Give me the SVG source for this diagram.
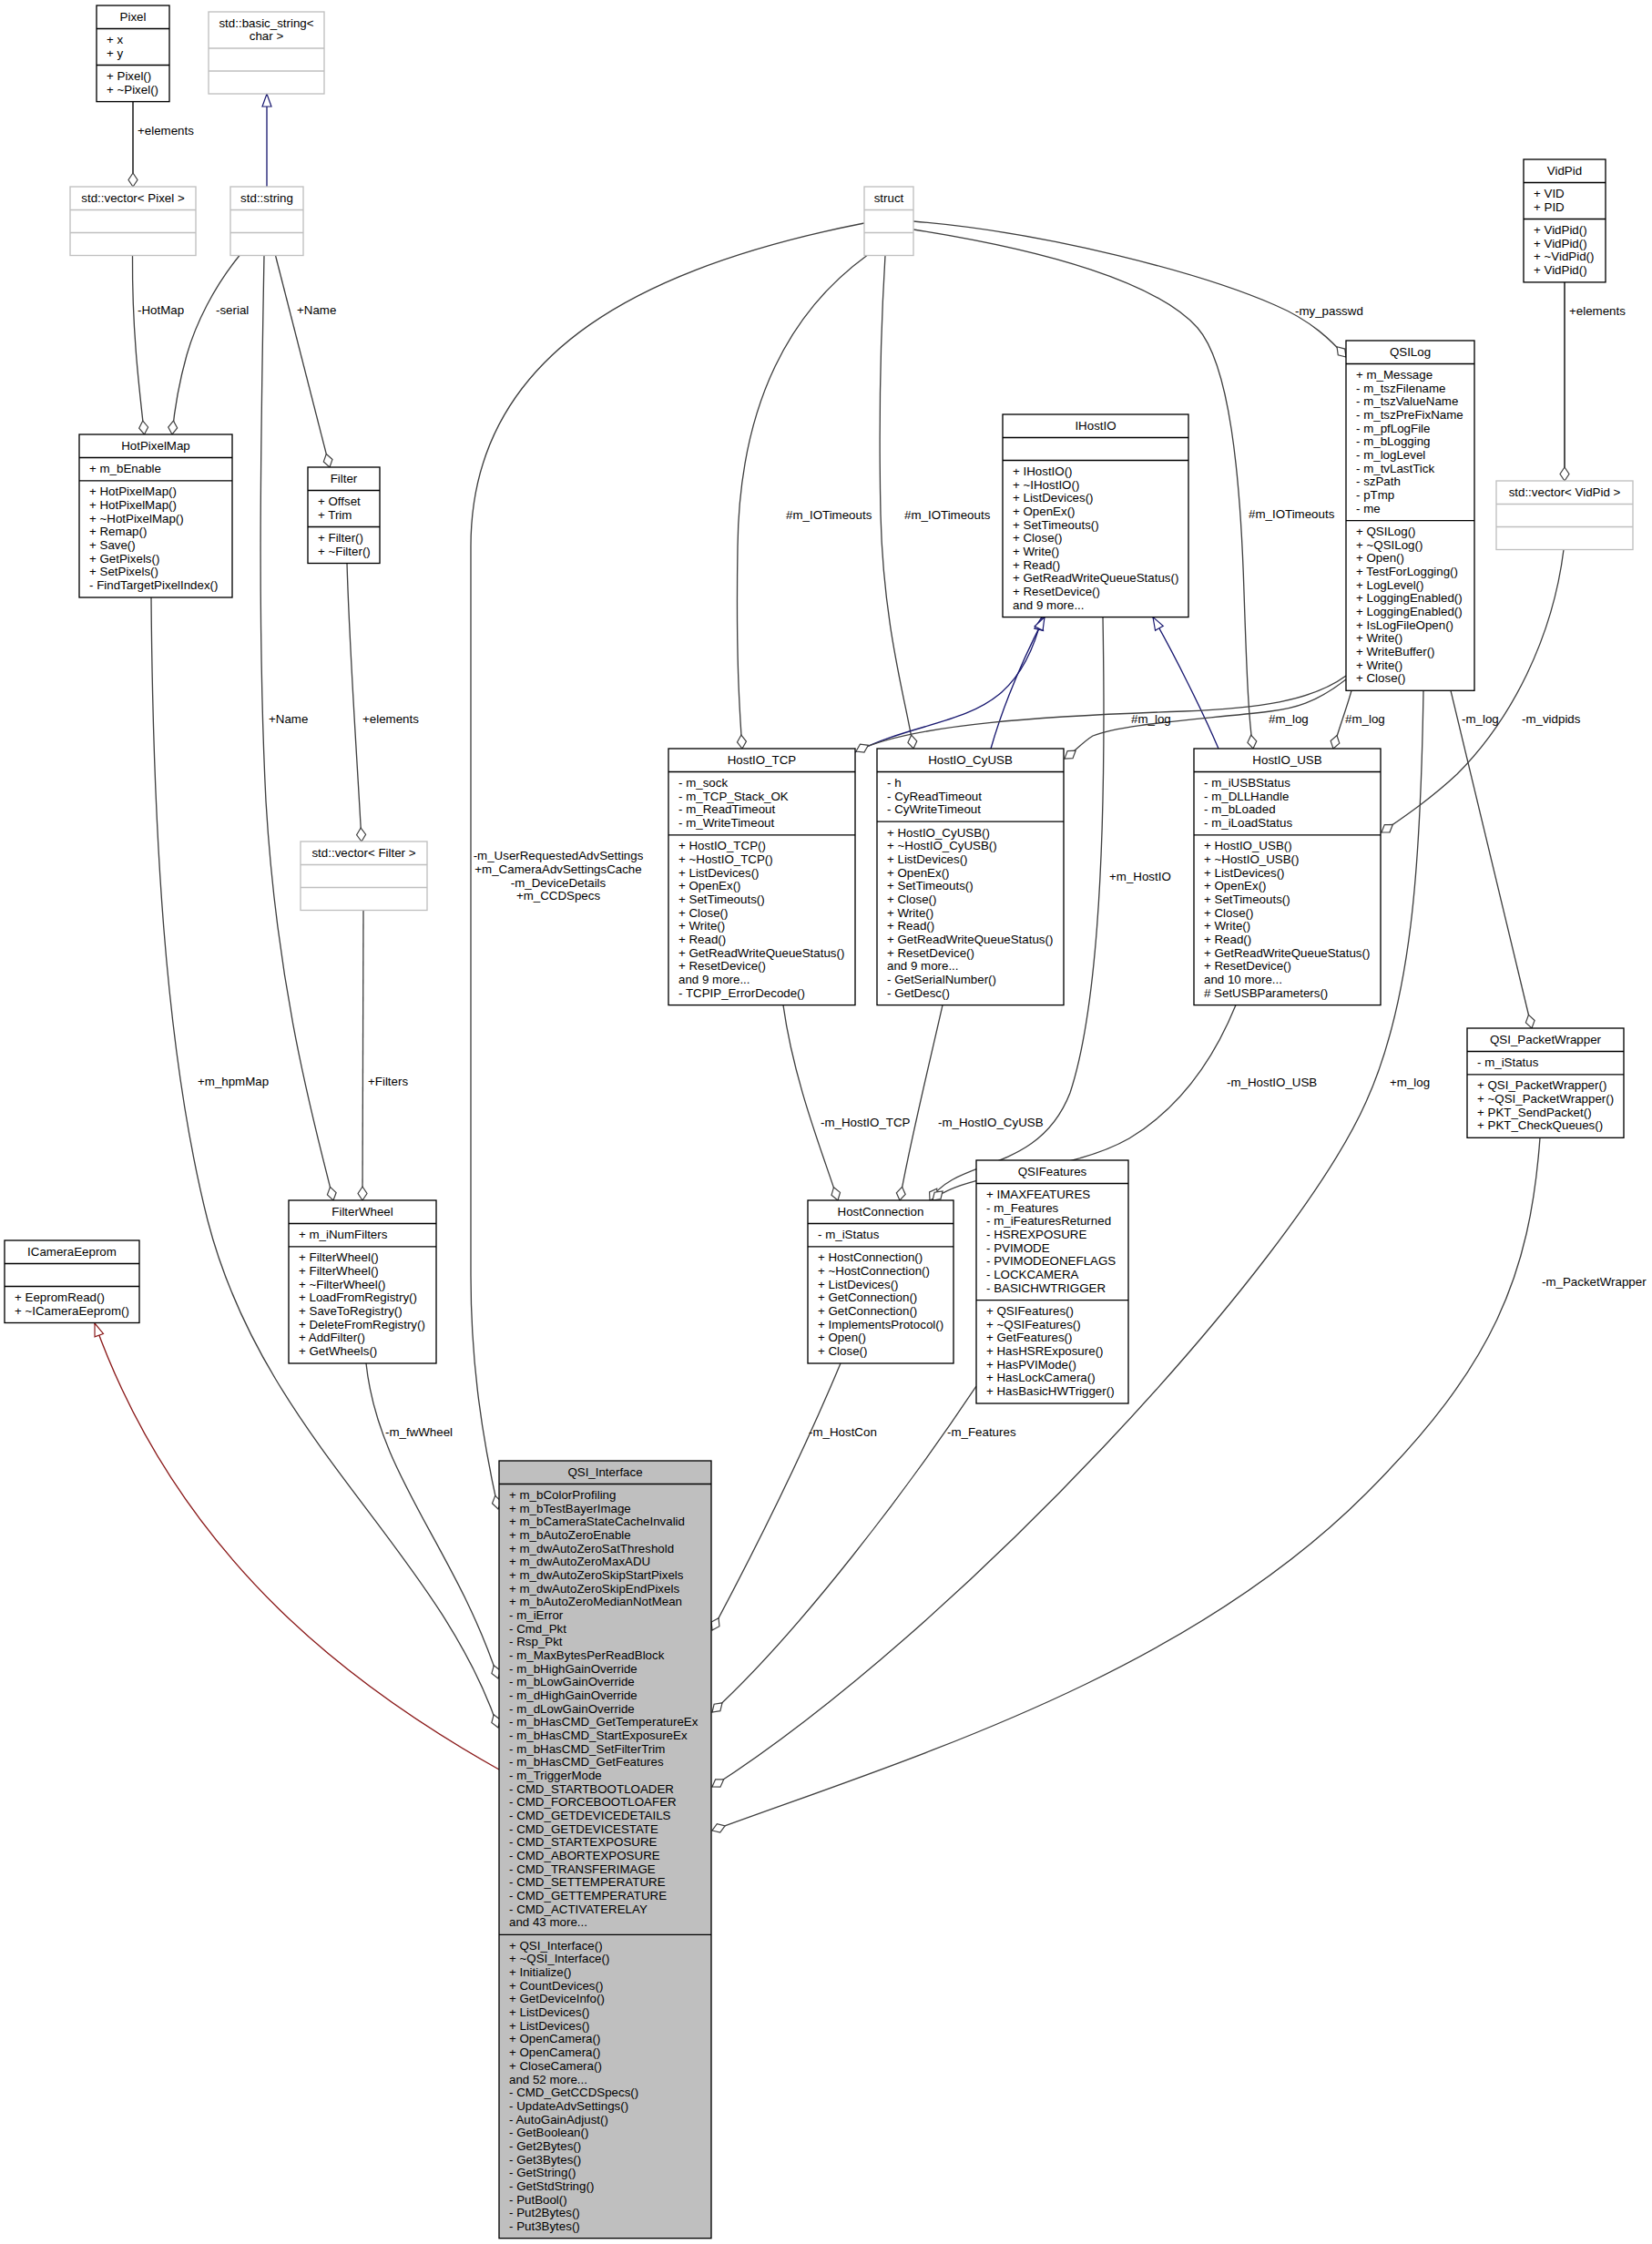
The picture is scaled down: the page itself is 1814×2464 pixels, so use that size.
<svg xmlns="http://www.w3.org/2000/svg" width="1814" height="2464" viewBox="0 0 1814 2464">
<style>
text{font-family:"Liberation Sans",Arial,Helvetica,sans-serif;font-size:13.33px;fill:#000}
.t{text-anchor:middle}
.n rect{fill:#fff;stroke:#000;stroke-width:1.33}
.n line{stroke:#000;stroke-width:1.33}
.g rect{fill:#fff;stroke:#bfbfbf;stroke-width:1.33}
.g line{stroke:#bfbfbf;stroke-width:1.33}
.q rect{fill:#bfbfbf}
.e path{fill:none;stroke:#404040;stroke-width:1.33}
.e path.thick{stroke-width:2;stroke:#505050}
.e path.inh{stroke:#191970;marker-end:url(#tri)}
.e path.prv{stroke:#8b1a1a;marker-end:url(#trir)}
.e path.agg{marker-end:url(#dia)}
</style>
<defs>
<marker id="dia" markerUnits="userSpaceOnUse" viewBox="-1 -7 18 14" markerWidth="18" markerHeight="14" refX="15.5" refY="0" orient="auto" overflow="visible"><path d="M0.5,0 L8,-5 L15.5,0 L8,5 Z" fill="#fff" stroke="#404040" stroke-width="1.2"/></marker>
<marker id="tri" markerUnits="userSpaceOnUse" viewBox="-1 -7 17 14" markerWidth="17" markerHeight="14" refX="14.5" refY="0" orient="auto" overflow="visible"><path d="M0.5,-5 L14.5,0 L0.5,5 Z" fill="#fff" stroke="#191970" stroke-width="1.2"/></marker>
<marker id="trir" markerUnits="userSpaceOnUse" viewBox="-1 -7 17 14" markerWidth="17" markerHeight="14" refX="14.5" refY="0" orient="auto" overflow="visible"><path d="M0.5,-5 L14.5,0 L0.5,5 Z" fill="#fff" stroke="#8b1a1a" stroke-width="1.2"/></marker>
</defs>
<rect width="1814" height="2464" fill="#fff"/>

<g id="edges" class="e">
<path class="agg thick" d="M146,111.6 L146,205"/>
<path class="inh" d="M293,205 L293,103"/>
<path class="agg" d="M145.5,280.5 C145,360 152,420 158.5,477"/>
<path class="agg" d="M263,280.5 C235,315 215,355 205,390 C198,415 192,445 189,477"/>
<path class="agg" d="M302.5,280.5 L362,513"/>
<path class="agg" d="M290,280.5 C286,500 283,700 292,880 C305,1100 350,1250 366,1318"/>
<path class="agg" d="M381,618.5 C384,720 392,830 397,924"/>
<path class="agg" d="M399,999.5 L398,1318"/>
<path class="agg" d="M166,656 C168,900 180,1150 228,1340 C290,1580 480,1700 547,1897"/>
<path class="agg" d="M402,1497 C415,1620 500,1700 547,1843"/>
<path class="prv" d="M548,1943 C400,1860 200,1720 104,1453"/>
<path class="agg" d="M949,245 C720,290 517,380 517,600 L517,1400 C517,1500 530,1580 547,1657"/>
<path class="agg" d="M952,280.5 C870,340 812,440 810,600 C808,720 812,780 815,822"/>
<path class="agg" d="M972,280.5 C966,380 965,470 967,565 C970,690 995,770 1003,822"/>
<path class="agg" d="M1003,243 C1150,255 1320,300 1400,335 C1440,352 1462,374 1478,392"/>
<path class="agg" d="M1003,252 C1150,275 1270,310 1315,360 C1350,400 1362,520 1366,650 C1369,740 1371,790 1376,822"/>
<path class="inh" d="M939,826 C1000,795 1060,795 1100,760 C1120,742 1135,715 1144,677.6"/>
<path class="inh" d="M1088,822 C1100,780 1120,730 1147,677.6"/>
<path class="inh" d="M1338,822 C1320,780 1290,720 1266,677.6"/>
<path class="agg" d="M1211,677.6 C1215,900 1208,1100 1175,1200 C1140,1290 1050,1270 1021,1318"/>
<path class="agg" d="M1357,1103.6 C1330,1170 1290,1220 1240,1250 C1170,1290 1060,1285 1024,1318"/>
<path class="agg" d="M860,1103.6 C872,1190 905,1270 920,1318"/>
<path class="agg" d="M1035,1103.6 C1020,1170 998,1260 988,1318"/>
<path class="agg" d="M923,1497 C880,1600 830,1700 782,1790"/>
<path class="agg" d="M1072,1522 C1000,1630 880,1790 782,1880"/>
<path class="agg" d="M1563,758.3 C1560,950 1550,1100 1500,1210 C1420,1390 1050,1790 782,1962"/>
<path class="agg" d="M1691,1249.3 C1680,1400 1640,1500 1500,1640 C1300,1840 1000,1930 782,2010"/>
<path class="agg" d="M1593,758.3 L1682,1129"/>
<path class="agg" d="M1484,758.3 C1478,780 1470,800 1464,822"/>
<path class="agg" d="M1717,603.5 C1705,700 1660,790 1600,850 C1570,878 1540,898 1517,914"/>
<path class="agg" d="M1478,742 C1440,770 1380,778 1300,781 C1150,786 1000,795 940,825"/>
<path class="agg" d="M1478,746 C1445,772 1420,778 1395,781 C1320,790 1230,795 1200,808 C1190,814 1180,825 1169,833"/>
<path class="thick agg" d="M1718,309.9 L1718,528"/>
</g>

<g id="edge-labels">
<text x="151" y="147.7">+elements</text>
<text x="151" y="345">-HotMap</text>
<text x="237" y="345">-serial</text>
<text x="326" y="345">+Name</text>
<text x="1422" y="345.7">-my_passwd</text>
<text x="1723" y="345.7">+elements</text>
<text x="863" y="569.5">#m_IOTimeouts</text>
<text x="993" y="569.5">#m_IOTimeouts</text>
<text x="1371" y="569">#m_IOTimeouts</text>
<text x="295" y="794">+Name</text>
<text x="398" y="794">+elements</text>
<text x="1242" y="794">#m_log</text>
<text x="1393" y="794">#m_log</text>
<text x="1477" y="794">#m_log</text>
<text x="1605" y="794">-m_log</text>
<text x="1671" y="794">-m_vidpids</text>
<text class="t" x="613" y="944.3"><tspan x="613" y="944.3">-m_UserRequestedAdvSettings</tspan><tspan x="613" dy="14.67">+m_CameraAdvSettingsCache</tspan><tspan x="613" dy="14.67">-m_DeviceDetails</tspan><tspan x="613" dy="14.67">+m_CCDSpecs</tspan></text>
<text x="1218" y="967">+m_HostIO</text>
<text x="217" y="1192">+m_hpmMap</text>
<text x="404" y="1192">+Filters</text>
<text x="1347" y="1193">-m_HostIO_USB</text>
<text x="1526" y="1193">+m_log</text>
<text x="901" y="1237">-m_HostIO_TCP</text>
<text x="1030" y="1237">-m_HostIO_CyUSB</text>
<text x="1693" y="1412">-m_PacketWrapper</text>
<text x="423" y="1577">-m_fwWheel</text>
<text x="888" y="1577">-m_HostCon</text>
<text x="1040" y="1577">-m_Features</text>
</g>

<g id="node-Pixel" class="n">
<rect x="106" y="6" width="80" height="105.6"/>
<line x1="106" y1="31.5" x2="186" y2="31.5"/><line x1="106" y1="71.5" x2="186" y2="71.5"/>
<text class="t" x="146" y="22.5">Pixel</text>
<text x="117" y="48"><tspan x="117" y="48">+ x</tspan><tspan x="117" dy="14.67">+ y</tspan></text>
<text x="117" y="88"><tspan x="117" y="88">+ Pixel()</tspan><tspan x="117" dy="14.67">+ ~Pixel()</tspan></text>
</g>

<g id="node-basic_string" class="g">
<rect x="229" y="13" width="127" height="90"/>
<line x1="229" y1="53" x2="356" y2="53"/><line x1="229" y1="78" x2="356" y2="78"/>
<text class="t" x="292.5" y="29.5"><tspan x="292.5" y="29.5">std::basic_string&lt;</tspan><tspan x="292.5" dy="14.67">char &gt;</tspan></text>
</g>

<g id="node-vector_Pixel" class="g">
<rect x="77" y="205" width="138" height="75.5"/>
<line x1="77" y1="230.5" x2="215" y2="230.5"/><line x1="77" y1="255.5" x2="215" y2="255.5"/>
<text class="t" x="146" y="221.5">std::vector&lt; Pixel &gt;</text>
</g>

<g id="node-string" class="g">
<rect x="253" y="205" width="80" height="75.5"/>
<line x1="253" y1="230.5" x2="333" y2="230.5"/><line x1="253" y1="255.5" x2="333" y2="255.5"/>
<text class="t" x="293" y="221.5">std::string</text>
</g>

<g id="node-struct" class="g">
<rect x="949" y="205" width="54" height="75.5"/>
<line x1="949" y1="230.5" x2="1003" y2="230.5"/><line x1="949" y1="255.5" x2="1003" y2="255.5"/>
<text class="t" x="976" y="221.5">struct</text>
</g>

<g id="node-HotPixelMap" class="n">
<rect x="87" y="477" width="168" height="179"/>
<line x1="87" y1="502.5" x2="255" y2="502.5"/><line x1="87" y1="527.9" x2="255" y2="527.9"/>
<text class="t" x="171" y="493.5">HotPixelMap</text>
<text x="98" y="519">+ m_bEnable</text>
<text x="98" y="544.4"><tspan x="98" y="544.4">+ HotPixelMap()</tspan><tspan x="98" dy="14.67">+ HotPixelMap()</tspan><tspan x="98" dy="14.67">+ ~HotPixelMap()</tspan><tspan x="98" dy="14.67">+ Remap()</tspan><tspan x="98" dy="14.67">+ Save()</tspan><tspan x="98" dy="14.67">+ GetPixels()</tspan><tspan x="98" dy="14.67">+ SetPixels()</tspan><tspan x="98" dy="14.67">- FindTargetPixelIndex()</tspan></text>
</g>

<g id="node-Filter" class="n">
<rect x="338" y="513" width="79" height="105.5"/>
<line x1="338" y1="538.5" x2="417" y2="538.5"/><line x1="338" y1="578.5" x2="417" y2="578.5"/>
<text class="t" x="377.5" y="529.5">Filter</text>
<text x="349" y="555"><tspan x="349" y="555">+ Offset</tspan><tspan x="349" dy="14.67">+ Trim</tspan></text>
<text x="349" y="595"><tspan x="349" y="595">+ Filter()</tspan><tspan x="349" dy="14.67">+ ~Filter()</tspan></text>
</g>

<g id="node-vector_Filter" class="g">
<rect x="330" y="924" width="139" height="75.5"/>
<line x1="330" y1="949.5" x2="469" y2="949.5"/><line x1="330" y1="974.5" x2="469" y2="974.5"/>
<text class="t" x="399.5" y="940.5">std::vector&lt; Filter &gt;</text>
</g>

<g id="node-FilterWheel" class="n">
<rect x="317" y="1318" width="162" height="179"/>
<line x1="317" y1="1343.5" x2="479" y2="1343.5"/><line x1="317" y1="1368.9" x2="479" y2="1368.9"/>
<text class="t" x="398" y="1334.5">FilterWheel</text>
<text x="328" y="1360">+ m_iNumFilters</text>
<text x="328" y="1385.4"><tspan x="328" y="1385.4">+ FilterWheel()</tspan><tspan x="328" dy="14.67">+ FilterWheel()</tspan><tspan x="328" dy="14.67">+ ~FilterWheel()</tspan><tspan x="328" dy="14.67">+ LoadFromRegistry()</tspan><tspan x="328" dy="14.67">+ SaveToRegistry()</tspan><tspan x="328" dy="14.67">+ DeleteFromRegistry()</tspan><tspan x="328" dy="14.67">+ AddFilter()</tspan><tspan x="328" dy="14.67">+ GetWheels()</tspan></text>
</g>

<g id="node-ICameraEeprom" class="n">
<rect x="5" y="1362" width="148" height="90.5"/>
<line x1="5" y1="1387.5" x2="153" y2="1387.5"/><line x1="5" y1="1412.5" x2="153" y2="1412.5"/>
<text class="t" x="79" y="1378.5">ICameraEeprom</text>
<text x="16" y="1429"><tspan x="16" y="1429">+ EepromRead()</tspan><tspan x="16" dy="14.67">+ ~ICameraEeprom()</tspan></text>
</g>

<g id="node-IHostIO" class="n">
<rect x="1101" y="455" width="204" height="222.6"/>
<line x1="1101" y1="480.5" x2="1305" y2="480.5"/><line x1="1101" y1="505.5" x2="1305" y2="505.5"/>
<text class="t" x="1203" y="471.5">IHostIO</text>
<text x="1112" y="522"><tspan x="1112" y="522">+ IHostIO()</tspan><tspan x="1112" dy="14.67">+ ~IHostIO()</tspan><tspan x="1112" dy="14.67">+ ListDevices()</tspan><tspan x="1112" dy="14.67">+ OpenEx()</tspan><tspan x="1112" dy="14.67">+ SetTimeouts()</tspan><tspan x="1112" dy="14.67">+ Close()</tspan><tspan x="1112" dy="14.67">+ Write()</tspan><tspan x="1112" dy="14.67">+ Read()</tspan><tspan x="1112" dy="14.67">+ GetReadWriteQueueStatus()</tspan><tspan x="1112" dy="14.67">+ ResetDevice()</tspan><tspan x="1112" dy="14.67">and 9 more...</tspan></text>
</g>

<g id="node-HostIO_TCP" class="n">
<rect x="734" y="822" width="205" height="281.6"/>
<line x1="734" y1="847.5" x2="939" y2="847.5"/><line x1="734" y1="916.9" x2="939" y2="916.9"/>
<text class="t" x="836.5" y="838.5">HostIO_TCP</text>
<text x="745" y="864"><tspan x="745" y="864">- m_sock</tspan><tspan x="745" dy="14.67">- m_TCP_Stack_OK</tspan><tspan x="745" dy="14.67">- m_ReadTimeout</tspan><tspan x="745" dy="14.67">- m_WriteTimeout</tspan></text>
<text x="745" y="933.4"><tspan x="745" y="933.4">+ HostIO_TCP()</tspan><tspan x="745" dy="14.67">+ ~HostIO_TCP()</tspan><tspan x="745" dy="14.67">+ ListDevices()</tspan><tspan x="745" dy="14.67">+ OpenEx()</tspan><tspan x="745" dy="14.67">+ SetTimeouts()</tspan><tspan x="745" dy="14.67">+ Close()</tspan><tspan x="745" dy="14.67">+ Write()</tspan><tspan x="745" dy="14.67">+ Read()</tspan><tspan x="745" dy="14.67">+ GetReadWriteQueueStatus()</tspan><tspan x="745" dy="14.67">+ ResetDevice()</tspan><tspan x="745" dy="14.67">and 9 more...</tspan><tspan x="745" dy="14.67">- TCPIP_ErrorDecode()</tspan></text>
</g>

<g id="node-HostIO_CyUSB" class="n">
<rect x="963" y="822" width="205" height="281.6"/>
<line x1="963" y1="847.5" x2="1168" y2="847.5"/><line x1="963" y1="902.2" x2="1168" y2="902.2"/>
<text class="t" x="1065.5" y="838.5">HostIO_CyUSB</text>
<text x="974" y="864"><tspan x="974" y="864">- h</tspan><tspan x="974" dy="14.67">- CyReadTimeout</tspan><tspan x="974" dy="14.67">- CyWriteTimeout</tspan></text>
<text x="974" y="918.7"><tspan x="974" y="918.7">+ HostIO_CyUSB()</tspan><tspan x="974" dy="14.67">+ ~HostIO_CyUSB()</tspan><tspan x="974" dy="14.67">+ ListDevices()</tspan><tspan x="974" dy="14.67">+ OpenEx()</tspan><tspan x="974" dy="14.67">+ SetTimeouts()</tspan><tspan x="974" dy="14.67">+ Close()</tspan><tspan x="974" dy="14.67">+ Write()</tspan><tspan x="974" dy="14.67">+ Read()</tspan><tspan x="974" dy="14.67">+ GetReadWriteQueueStatus()</tspan><tspan x="974" dy="14.67">+ ResetDevice()</tspan><tspan x="974" dy="14.67">and 9 more...</tspan><tspan x="974" dy="14.67">- GetSerialNumber()</tspan><tspan x="974" dy="14.67">- GetDesc()</tspan></text>
</g>

<g id="node-HostIO_USB" class="n">
<rect x="1311" y="822" width="205" height="281.6"/>
<line x1="1311" y1="847.5" x2="1516" y2="847.5"/><line x1="1311" y1="916.9" x2="1516" y2="916.9"/>
<text class="t" x="1413.5" y="838.5">HostIO_USB</text>
<text x="1322" y="864"><tspan x="1322" y="864">- m_iUSBStatus</tspan><tspan x="1322" dy="14.67">- m_DLLHandle</tspan><tspan x="1322" dy="14.67">- m_bLoaded</tspan><tspan x="1322" dy="14.67">- m_iLoadStatus</tspan></text>
<text x="1322" y="933.4"><tspan x="1322" y="933.4">+ HostIO_USB()</tspan><tspan x="1322" dy="14.67">+ ~HostIO_USB()</tspan><tspan x="1322" dy="14.67">+ ListDevices()</tspan><tspan x="1322" dy="14.67">+ OpenEx()</tspan><tspan x="1322" dy="14.67">+ SetTimeouts()</tspan><tspan x="1322" dy="14.67">+ Close()</tspan><tspan x="1322" dy="14.67">+ Write()</tspan><tspan x="1322" dy="14.67">+ Read()</tspan><tspan x="1322" dy="14.67">+ GetReadWriteQueueStatus()</tspan><tspan x="1322" dy="14.67">+ ResetDevice()</tspan><tspan x="1322" dy="14.67">and 10 more...</tspan><tspan x="1322" dy="14.67"># SetUSBParameters()</tspan></text>
</g>

<g id="node-QSILog" class="n">
<rect x="1478" y="374" width="141" height="384.3"/>
<line x1="1478" y1="399.5" x2="1619" y2="399.5"/><line x1="1478" y1="571.6" x2="1619" y2="571.6"/>
<text class="t" x="1548.5" y="390.5">QSILog</text>
<text x="1489" y="416"><tspan x="1489" y="416">+ m_Message</tspan><tspan x="1489" dy="14.67">- m_tszFilename</tspan><tspan x="1489" dy="14.67">- m_tszValueName</tspan><tspan x="1489" dy="14.67">- m_tszPreFixName</tspan><tspan x="1489" dy="14.67">- m_pfLogFile</tspan><tspan x="1489" dy="14.67">- m_bLogging</tspan><tspan x="1489" dy="14.67">- m_logLevel</tspan><tspan x="1489" dy="14.67">- m_tvLastTick</tspan><tspan x="1489" dy="14.67">- szPath</tspan><tspan x="1489" dy="14.67">- pTmp</tspan><tspan x="1489" dy="14.67">- me</tspan></text>
<text x="1489" y="588.1"><tspan x="1489" y="588.1">+ QSILog()</tspan><tspan x="1489" dy="14.67">+ ~QSILog()</tspan><tspan x="1489" dy="14.67">+ Open()</tspan><tspan x="1489" dy="14.67">+ TestForLogging()</tspan><tspan x="1489" dy="14.67">+ LogLevel()</tspan><tspan x="1489" dy="14.67">+ LoggingEnabled()</tspan><tspan x="1489" dy="14.67">+ LoggingEnabled()</tspan><tspan x="1489" dy="14.67">+ IsLogFileOpen()</tspan><tspan x="1489" dy="14.67">+ Write()</tspan><tspan x="1489" dy="14.67">+ WriteBuffer()</tspan><tspan x="1489" dy="14.67">+ Write()</tspan><tspan x="1489" dy="14.67">+ Close()</tspan></text>
</g>

<g id="node-VidPid" class="n">
<rect x="1673" y="175" width="90" height="134.9"/>
<line x1="1673" y1="200.5" x2="1763" y2="200.5"/><line x1="1673" y1="240.5" x2="1763" y2="240.5"/>
<text class="t" x="1718" y="191.5">VidPid</text>
<text x="1684" y="217"><tspan x="1684" y="217">+ VID</tspan><tspan x="1684" dy="14.67">+ PID</tspan></text>
<text x="1684" y="257"><tspan x="1684" y="257">+ VidPid()</tspan><tspan x="1684" dy="14.67">+ VidPid()</tspan><tspan x="1684" dy="14.67">+ ~VidPid()</tspan><tspan x="1684" dy="14.67">+ VidPid()</tspan></text>
</g>

<g id="node-vector_VidPid" class="g">
<rect x="1643" y="528" width="150" height="75.5"/>
<line x1="1643" y1="553.5" x2="1793" y2="553.5"/><line x1="1643" y1="578.5" x2="1793" y2="578.5"/>
<text class="t" x="1718" y="544.5">std::vector&lt; VidPid &gt;</text>
</g>

<g id="node-QSI_PacketWrapper" class="n">
<rect x="1611" y="1129" width="172" height="120.3"/>
<line x1="1611" y1="1154.5" x2="1783" y2="1154.5"/><line x1="1611" y1="1179.9" x2="1783" y2="1179.9"/>
<text class="t" x="1697" y="1145.5">QSI_PacketWrapper</text>
<text x="1622" y="1171">- m_iStatus</text>
<text x="1622" y="1196.4"><tspan x="1622" y="1196.4">+ QSI_PacketWrapper()</tspan><tspan x="1622" dy="14.67">+ ~QSI_PacketWrapper()</tspan><tspan x="1622" dy="14.67">+ PKT_SendPacket()</tspan><tspan x="1622" dy="14.67">+ PKT_CheckQueues()</tspan></text>
</g>

<g id="node-HostConnection" class="n">
<rect x="887" y="1318" width="160" height="179"/>
<line x1="887" y1="1343.5" x2="1047" y2="1343.5"/><line x1="887" y1="1368.9" x2="1047" y2="1368.9"/>
<text class="t" x="967" y="1334.5">HostConnection</text>
<text x="898" y="1360">- m_iStatus</text>
<text x="898" y="1385.4"><tspan x="898" y="1385.4">+ HostConnection()</tspan><tspan x="898" dy="14.67">+ ~HostConnection()</tspan><tspan x="898" dy="14.67">+ ListDevices()</tspan><tspan x="898" dy="14.67">+ GetConnection()</tspan><tspan x="898" dy="14.67">+ GetConnection()</tspan><tspan x="898" dy="14.67">+ ImplementsProtocol()</tspan><tspan x="898" dy="14.67">+ Open()</tspan><tspan x="898" dy="14.67">+ Close()</tspan></text>
</g>

<g id="node-QSIFeatures" class="n">
<rect x="1072" y="1274" width="167" height="267"/>
<line x1="1072" y1="1299.5" x2="1239" y2="1299.5"/><line x1="1072" y1="1427.6" x2="1239" y2="1427.6"/>
<text class="t" x="1155.5" y="1290.5">QSIFeatures</text>
<text x="1083" y="1316"><tspan x="1083" y="1316">+ IMAXFEATURES</tspan><tspan x="1083" dy="14.67">- m_Features</tspan><tspan x="1083" dy="14.67">- m_iFeaturesReturned</tspan><tspan x="1083" dy="14.67">- HSREXPOSURE</tspan><tspan x="1083" dy="14.67">- PVIMODE</tspan><tspan x="1083" dy="14.67">- PVIMODEONEFLAGS</tspan><tspan x="1083" dy="14.67">- LOCKCAMERA</tspan><tspan x="1083" dy="14.67">- BASICHWTRIGGER</tspan></text>
<text x="1083" y="1444.1"><tspan x="1083" y="1444.1">+ QSIFeatures()</tspan><tspan x="1083" dy="14.67">+ ~QSIFeatures()</tspan><tspan x="1083" dy="14.67">+ GetFeatures()</tspan><tspan x="1083" dy="14.67">+ HasHSRExposure()</tspan><tspan x="1083" dy="14.67">+ HasPVIMode()</tspan><tspan x="1083" dy="14.67">+ HasLockCamera()</tspan><tspan x="1083" dy="14.67">+ HasBasicHWTrigger()</tspan></text>
</g>

<g id="node-QSI_Interface" class="n q">
<rect x="548" y="1604" width="233" height="853.7"/>
<line x1="548" y1="1629.5" x2="781" y2="1629.5"/><line x1="548" y1="2124.3" x2="781" y2="2124.3"/>
<text class="t" x="664.5" y="1620.5">QSI_Interface</text>
<text x="559" y="1646"><tspan x="559" y="1646">+ m_bColorProfiling</tspan><tspan x="559" dy="14.67">+ m_bTestBayerImage</tspan><tspan x="559" dy="14.67">+ m_bCameraStateCacheInvalid</tspan><tspan x="559" dy="14.67">+ m_bAutoZeroEnable</tspan><tspan x="559" dy="14.67">+ m_dwAutoZeroSatThreshold</tspan><tspan x="559" dy="14.67">+ m_dwAutoZeroMaxADU</tspan><tspan x="559" dy="14.67">+ m_dwAutoZeroSkipStartPixels</tspan><tspan x="559" dy="14.67">+ m_dwAutoZeroSkipEndPixels</tspan><tspan x="559" dy="14.67">+ m_bAutoZeroMedianNotMean</tspan><tspan x="559" dy="14.67">- m_iError</tspan><tspan x="559" dy="14.67">- Cmd_Pkt</tspan><tspan x="559" dy="14.67">- Rsp_Pkt</tspan><tspan x="559" dy="14.67">- m_MaxBytesPerReadBlock</tspan><tspan x="559" dy="14.67">- m_bHighGainOverride</tspan><tspan x="559" dy="14.67">- m_bLowGainOverride</tspan><tspan x="559" dy="14.67">- m_dHighGainOverride</tspan><tspan x="559" dy="14.67">- m_dLowGainOverride</tspan><tspan x="559" dy="14.67">- m_bHasCMD_GetTemperatureEx</tspan><tspan x="559" dy="14.67">- m_bHasCMD_StartExposureEx</tspan><tspan x="559" dy="14.67">- m_bHasCMD_SetFilterTrim</tspan><tspan x="559" dy="14.67">- m_bHasCMD_GetFeatures</tspan><tspan x="559" dy="14.67">- m_TriggerMode</tspan><tspan x="559" dy="14.67">- CMD_STARTBOOTLOADER</tspan><tspan x="559" dy="14.67">- CMD_FORCEBOOTLOAFER</tspan><tspan x="559" dy="14.67">- CMD_GETDEVICEDETAILS</tspan><tspan x="559" dy="14.67">- CMD_GETDEVICESTATE</tspan><tspan x="559" dy="14.67">- CMD_STARTEXPOSURE</tspan><tspan x="559" dy="14.67">- CMD_ABORTEXPOSURE</tspan><tspan x="559" dy="14.67">- CMD_TRANSFERIMAGE</tspan><tspan x="559" dy="14.67">- CMD_SETTEMPERATURE</tspan><tspan x="559" dy="14.67">- CMD_GETTEMPERATURE</tspan><tspan x="559" dy="14.67">- CMD_ACTIVATERELAY</tspan><tspan x="559" dy="14.67">and 43 more...</tspan></text>
<text x="559" y="2140.8"><tspan x="559" y="2140.8">+ QSI_Interface()</tspan><tspan x="559" dy="14.67">+ ~QSI_Interface()</tspan><tspan x="559" dy="14.67">+ Initialize()</tspan><tspan x="559" dy="14.67">+ CountDevices()</tspan><tspan x="559" dy="14.67">+ GetDeviceInfo()</tspan><tspan x="559" dy="14.67">+ ListDevices()</tspan><tspan x="559" dy="14.67">+ ListDevices()</tspan><tspan x="559" dy="14.67">+ OpenCamera()</tspan><tspan x="559" dy="14.67">+ OpenCamera()</tspan><tspan x="559" dy="14.67">+ CloseCamera()</tspan><tspan x="559" dy="14.67">and 52 more...</tspan><tspan x="559" dy="14.67">- CMD_GetCCDSpecs()</tspan><tspan x="559" dy="14.67">- UpdateAdvSettings()</tspan><tspan x="559" dy="14.67">- AutoGainAdjust()</tspan><tspan x="559" dy="14.67">- GetBoolean()</tspan><tspan x="559" dy="14.67">- Get2Bytes()</tspan><tspan x="559" dy="14.67">- Get3Bytes()</tspan><tspan x="559" dy="14.67">- GetString()</tspan><tspan x="559" dy="14.67">- GetStdString()</tspan><tspan x="559" dy="14.67">- PutBool()</tspan><tspan x="559" dy="14.67">- Put2Bytes()</tspan><tspan x="559" dy="14.67">- Put3Bytes()</tspan></text>
</g>
</svg>
